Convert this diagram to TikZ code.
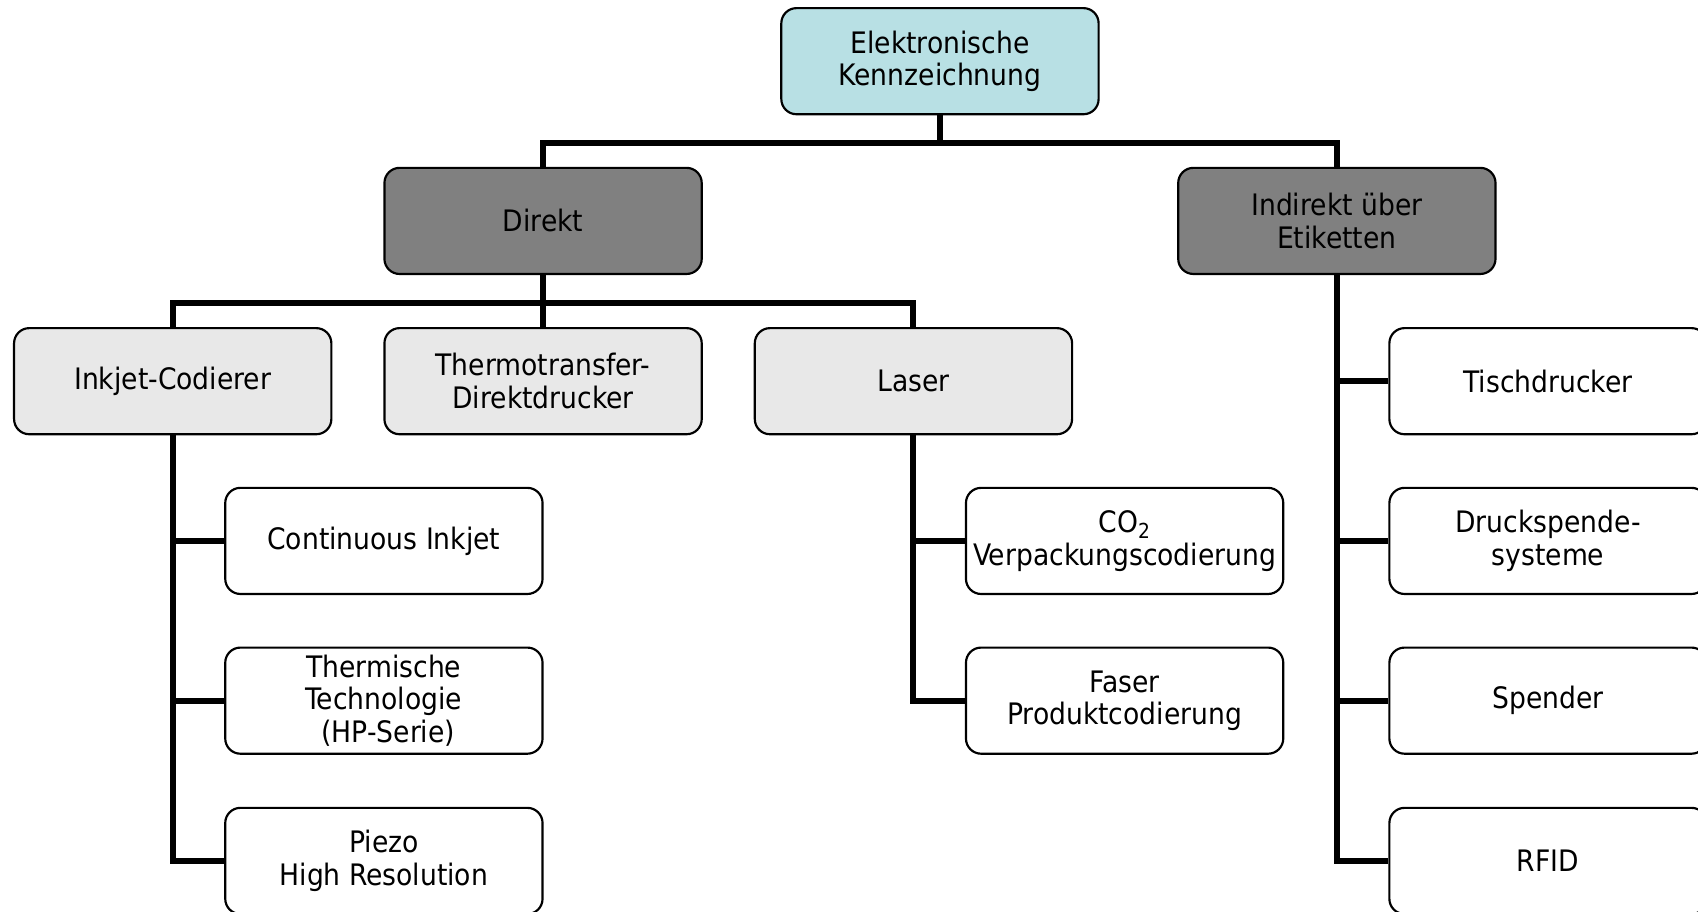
\documentclass[tikz,border=0pt]{standalone}
\usepackage{fontspec}
\setmainfont{DejaVu Sans Condensed}
\definecolor{topfill}{HTML}{B8E0E4}
\definecolor{midfill}{HTML}{808080}
\definecolor{lowfill}{HTML}{E8E8E8}
\begin{document}
\begin{tikzpicture}[x=1pt,y=-1pt,
  box/.style={draw=black, line width=2pt, rounded corners=14pt, align=center,
    minimum width=293pt, minimum height=98pt, inner sep=0pt,
    font=\fontsize{27.3}{30}\selectfont, text=black},
  topbox/.style={box, fill=topfill},
  midbox/.style={box, fill=midfill},
  lowbox/.style={box, fill=lowfill},
  leafbox/.style={box, fill=white},
  conn/.style={line width=5.5pt, line join=miter, draw=black}]
\useasboundingbox (0,0) rectangle (1568,842);
\clip (0,0) rectangle (1568,842);
\fill[white] (0,0) rectangle (1568,842);

\node[topbox] (top) at (868,56.5) {Elektronische\\Kennzeichnung};
\node[midbox] (dir) at (501.5,204) {Direkt};
\node[midbox] (ind) at (1234.5,204) {Indirekt über\\Etiketten};

\node[lowbox] (ink) at (159.5,352) {Inkjet-Codierer};
\node[lowbox] (thermo) at (501.5,352) {Thermotransfer-\\Direktdrucker};
\node[lowbox] (laser) at (843.5,352) {Laser};

\node[leafbox] (ci) at (354.5,499.5) {Continuous Inkjet};
\node[leafbox] (th) at (354.5,647) {Thermische\\Technologie\\\hspace*{8pt}(HP-Serie)};
\node[leafbox] (pz) at (354.5,795) {Piezo\\High Resolution};

\node[leafbox] (co) at (1038.5,499.5) {CO\textsubscript{2}\\Verpackungscodierung};
\node[leafbox] (fa) at (1038.5,647) {Faser\\Produktcodierung};

\node[leafbox] (ti) at (1429.5,352) {Tischdrucker};
\node[leafbox] (dr) at (1429.5,499.5) {Druckspende-\\systeme};
\node[leafbox] (sp) at (1429.5,647) {Spender};
\node[leafbox] (rf) at (1429.5,795) {RFID};

\coordinate (b1) at (868,132);
\coordinate (b2) at (501.5,280);

\draw[conn] (top.south) -- (b1);
\draw[conn] (dir.north) |- (b1) -| (ind.north);
\draw[conn] (dir.south) -- (thermo.north);
\draw[conn] (ink.north) |- (b2) -| (laser.north);

\draw[conn] (ink.south) |- (pz.west);
\draw[conn] (ink.south |- ci.west) -- (ci.west);
\draw[conn] (ink.south |- th.west) -- (th.west);

\draw[conn] (laser.south) |- (fa.west);
\draw[conn] (laser.south |- co.west) -- (co.west);

\draw[conn] (ind.south) |- (rf.west);
\draw[conn] (ind.south |- ti.west) -- (ti.west);
\draw[conn] (ind.south |- dr.west) -- (dr.west);
\draw[conn] (ind.south |- sp.west) -- (sp.west);
\end{tikzpicture}
\end{document}
